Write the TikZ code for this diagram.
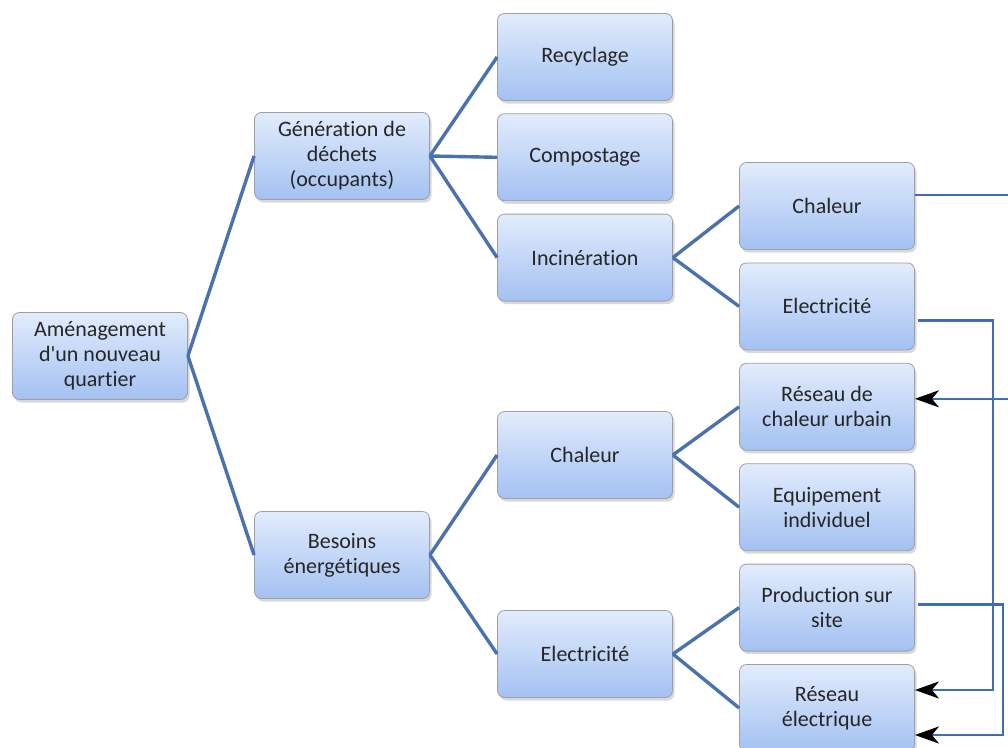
\documentclass[tikz,border=0pt]{standalone}
\usepackage{fontspec}
\setmainfont{Carlito}[Ligatures={TeXOff,CommonOff}]
\usetikzlibrary{positioning, arrows.meta, shadows}

\definecolor{treeblue}{HTML}{4A72AE}
\definecolor{linkblue}{HTML}{3F6DB8}
\definecolor{boxtop}{HTML}{E2ECFC}
\definecolor{boxbot}{HTML}{A3C1F2}

\begin{document}
\begin{tikzpicture}[
  x=1pt, y=-1pt,
  >=Stealth,
  box/.style={draw=gray!75, rounded corners=7pt, minimum width=175pt, minimum height=87pt,
              top color=boxtop, bottom color=boxbot, align=center, text=black!85,
              font=\fontsize{22}{25}\selectfont, line width=0.8pt,
              drop shadow={opacity=0.3, shadow xshift=2pt, shadow yshift=-3pt}},
  tree/.style={line width=3.4pt, draw=treeblue},
  link/.style={line width=2.6pt, draw=linkblue,
               -{Stealth[length=24pt, width=17pt, inset=7pt, black]}},
]
\useasboundingbox (0,0) rectangle (1008,747);

% --- Root ---
\node[box] (root) at (100,356) {Aménagement\\d'un nouveau\\quartier};

% --- Second level ---
\node[box] (dechets) at (342,156) {Génération de\\déchets\\(occupants)};
\node[box] (besoins) at (342,555) {Besoins\\énergétiques};

% --- Third level ---
\node[box] (recyc) at (585,57) {Recyclage};
\node[box, below=12.5pt of recyc] (compost) {Compostage};
\node[box, below=12.5pt of compost] (incin) {Incinération};
\node[box] (chalB) at (585,455) {Chaleur};
\node[box] (elecB) at (585,654) {Electricité};

% --- Fourth level ---
\node[box] (chalI) at (827,206) {Chaleur};
\node[box, below=12.6pt of chalI] (elecI) {Electricité};
\node[box, below=12.6pt of elecI] (resCh) {Réseau de\\chaleur urbain};
\node[box, below=12.6pt of resCh] (equip) {Equipement\\individuel};
\node[box, below=12.6pt of equip] (prod) {Production sur\\site};
\node[box, below=12.6pt of prod] (resEl) {Réseau\\électrique};

% --- Tree branches ---
\draw[tree] (root.east) -- (dechets.west);
\draw[tree] (root.east) -- (besoins.west);
\draw[tree] (dechets.east) -- (recyc.west);
\draw[tree] (dechets.east) -- (compost.west);
\draw[tree] (dechets.east) -- (incin.west);
\draw[tree] (incin.east) -- (chalI.west);
\draw[tree] (incin.east) -- (elecI.west);
\draw[tree] (besoins.east) -- (chalB.west);
\draw[tree] (besoins.east) -- (elecB.west);
\draw[tree] (chalB.east) -- (resCh.west);
\draw[tree] (chalB.east) -- (equip.west);
\draw[tree] (elecB.east) -- (prod.west);
\draw[tree] (elecB.east) -- (resEl.west);

% --- Links to the networks ---
\draw[link] ([yshift=11pt]chalI.east) -- ++(110,0) |- ([yshift=8pt]resCh.east);
\draw[link] ([yshift=-14pt, xshift=3pt]elecI.east) -- ++(75,0) |- ([yshift=18pt]resEl.east);
\draw[link] ([yshift=3pt, xshift=3pt]prod.east) -- ++(85,0) |- ([yshift=-27pt]resEl.east);

\end{tikzpicture}
\end{document}
